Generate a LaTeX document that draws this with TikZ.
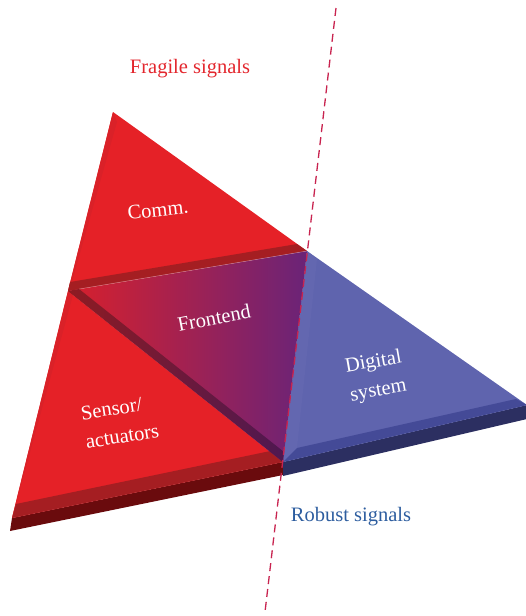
\documentclass[tikz,border=0pt]{standalone}
\usepackage{fontspec}
\setmainfont{Liberation Serif}
\definecolor{redface}{HTML}{E52127}
\definecolor{redbevel}{HTML}{A51E22}
\definecolor{redside}{HTML}{6A0B0D}
\definecolor{redleft}{HTML}{DA2128}
\definecolor{feL}{HTML}{D8202C}
\definecolor{feR}{HTML}{6A2378}
\definecolor{febandL}{HTML}{8E1B22}
\definecolor{febandR}{HTML}{4E1851}
\definecolor{blueface}{HTML}{5F64AE}
\definecolor{blueleft}{HTML}{6367B0}
\definecolor{bluebevel}{HTML}{444A97}
\definecolor{blueside}{HTML}{2C2F61}
\definecolor{dashc}{HTML}{C8234F}
\definecolor{fragc}{HTML}{E3262D}
\definecolor{robc}{HTML}{2D5D9F}
\begin{document}
\begin{tikzpicture}[x=1pt,y=-1pt,
  lab/.style={text=white,font=\fontsize{20.5}{29}\selectfont,inner sep=0pt},
  sigtext/.style={font=\fontsize{20.5}{24}\selectfont,inner sep=0pt}]
\useasboundingbox (0,0) rectangle (525,616);
% key points
\coordinate (A) at (113,112);
\coordinate (L) at (68,291);
\coordinate (T) at (307,251);
\coordinate (J) at (283,462);
\coordinate (P) at (12,518);
\coordinate (R) at (527,405);
% ---- Sensor slab
\fill[redside] (P) -- (J) -- (283,475) -- (10,531) -- cycle;
\fill[redface] (L) -- (J) -- (P) -- cycle;
\fill[redleft] (L) -- (P) -- (16,504) -- (73,295) -- cycle;
\fill[redbevel] (P) -- (J) -- (280,449) -- (16,504) -- cycle;
% ---- Comm slab
\fill[redface] (A) -- (L) -- (T) -- cycle;
\fill[redleft] (A) -- (L) -- (72,282) -- (117,122) -- cycle;
\fill[redbevel] (L) -- (T) -- (297,244) -- (70,282) -- cycle;
% ---- Digital slab
\fill[blueside] (J) -- (R) -- (527,419) -- (283,476) -- cycle;
\fill[blueface] (T) -- (R) -- (J) -- cycle;
\fill[blueleft] (T) -- (J) -- (297,448) -- (317,259) -- cycle;
\fill[bluebevel] (J) -- (R) -- (516,399) -- (297,448) -- cycle;
% ---- Frontend
\shade[left color=feL,right color=feR] (L) -- (T) -- (J) -- cycle;
\shade[left color=febandL,right color=febandR] (L) -- (J) -- (284,452) -- (79,289) -- cycle;
\draw[white,opacity=0.45,line width=0.4pt] (79,289) -- (T);
% ---- dashed divider
\coordinate (d1) at (336,8);
\coordinate (d2) at (265,612);
\draw[dashc,line width=1.3pt,dash pattern=on 8pt off 5pt] (d1) -- (d2);
% ---- labels
\node[sigtext,text=fragc] (frag) at (190,69) {Fragile signals};
\node[sigtext,text=robc] (rob) at (351,517) {Robust signals};
\node[lab,rotate=6] (comm) at (158,210) {Comm.};
\node[lab,rotate=11] (fe) at (214,318) {Frontend};
\node[lab,rotate=9,align=left] (sens) at (120,422) {Sensor/\\actuators};
\node[lab,rotate=10,align=center] (dig) at (376,377) {Digital\\system};
\end{tikzpicture}
\end{document}
